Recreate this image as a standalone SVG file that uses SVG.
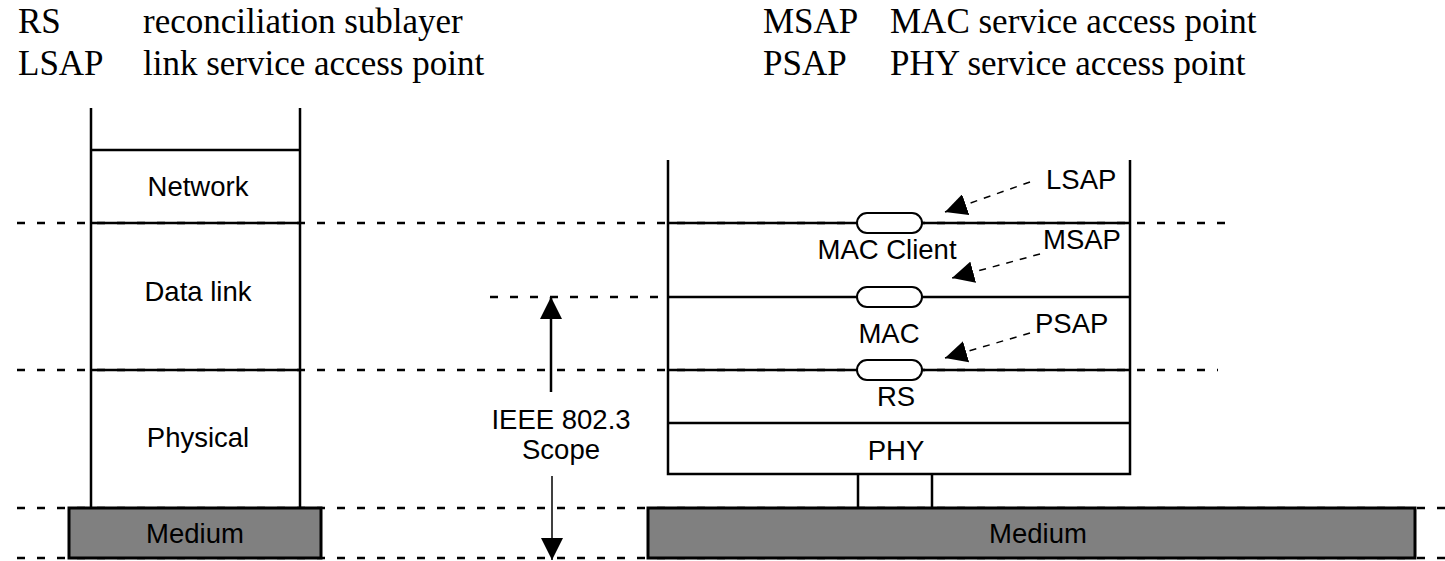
<svg xmlns="http://www.w3.org/2000/svg" width="1445" height="561" viewBox="0 0 1445 561">
<defs>
<style>
.leg{font-family:"Liberation Serif","Times New Roman",serif;font-size:35px;fill:#000}
.lbl{font-family:"Liberation Sans",Arial,sans-serif;font-size:27.5px;fill:#000}
.c{text-anchor:middle}
.ln{stroke:#000;stroke-width:2.5;fill:none}
.dash{stroke:#000;stroke-width:2.5;stroke-dasharray:8 12;fill:none}
.pill{fill:#fff;stroke:#000;stroke-width:2}
.med{fill:#808080;stroke:#000;stroke-width:3}
.darr{stroke:#000;stroke-width:1.5;stroke-dasharray:7 7;fill:none}
</style>
<marker id="ahd" viewBox="0 0 10 10" refX="10" refY="5" markerWidth="22" markerHeight="22" markerUnits="userSpaceOnUse" orient="auto">
<path d="M0,0 L10,5 L0,10 Z" fill="#000"/>
</marker>
</defs>
<rect width="1445" height="561" fill="#fff"/>

<g id="legend">
<text class="leg" x="18" y="33">RS</text>
<text class="leg" x="143" y="33">reconciliation sublayer</text>
<text class="leg" x="18" y="75">LSAP</text>
<text class="leg" x="143" y="75">link service access point</text>
<text class="leg" x="763" y="33">MSAP</text>
<text class="leg" x="890" y="33">MAC service access point</text>
<text class="leg" x="763" y="75">PSAP</text>
<text class="leg" x="890" y="75">PHY service access point</text>
</g>

<g id="guides">
<line class="dash" x1="17" y1="223" x2="1230" y2="223"/>
<line class="dash" x1="490" y1="297" x2="668" y2="297"/>
<line class="dash" x1="17" y1="370" x2="1218" y2="370"/>
<line class="dash" x1="17" y1="508" x2="1445" y2="508"/>
<line class="dash" x1="17" y1="558" x2="1445" y2="558"/>
</g>

<g id="osi-stack">
<path class="ln" d="M91,108 V508 M300,108 V508"/>
<path class="ln" d="M91,150 H300 M91,223 H300 M91,370 H300"/>
<text class="lbl c" x="198" y="196">Network</text>
<text class="lbl c" x="198" y="301">Data link</text>
<text class="lbl c" x="198" y="447">Physical</text>
</g>

<g id="medium-left">
<rect class="med" x="69" y="508" width="252" height="50"/>
<text class="lbl c" x="195" y="543">Medium</text>
</g>

<g id="ieee-stack">
<path class="ln" d="M668,160 V474 H1130 V160"/>
<path class="ln" d="M668,223 H1130 M668,297 H1130 M668,370 H1130 M668,423 H1130"/>
<rect class="pill" x="857" y="213" width="65" height="20" rx="10"/>
<rect class="pill" x="857" y="287" width="65" height="20" rx="10"/>
<rect class="pill" x="857" y="360" width="65" height="20" rx="10"/>
<text class="lbl c" x="887" y="259">MAC Client</text>
<text class="lbl c" x="889" y="343">MAC</text>
<text class="lbl c" x="896" y="406">RS</text>
<text class="lbl c" x="896" y="460">PHY</text>
<path class="ln" d="M858,474 V508 M932,474 V508"/>
</g>

<g id="medium-right">
<rect class="med" x="648" y="508" width="767" height="50"/>
<text class="lbl c" x="1038" y="543">Medium</text>
</g>

<g id="sap-labels">
<text class="lbl" x="1046" y="189">LSAP</text>
<text class="lbl" x="1043" y="249">MSAP</text>
<text class="lbl" x="1035" y="333">PSAP</text>
</g>

<g id="scope">
<text class="lbl c" x="561" y="429">IEEE 802.3</text>
<text class="lbl c" x="561" y="459">Scope</text>
</g>

<g id="connectors">
<line class="darr" x1="1030" y1="182" x2="945" y2="212" marker-end="url(#ahd)"/>
<line class="darr" x1="1040" y1="254" x2="952" y2="278" marker-end="url(#ahd)"/>
<line class="darr" x1="1030" y1="333" x2="945" y2="358" marker-end="url(#ahd)"/>
<line stroke="#000" stroke-width="2.5" x1="551" y1="392" x2="551" y2="297" marker-end="url(#ahd)"/>
<line stroke="#000" stroke-width="1.5" x1="552" y1="476" x2="552" y2="560" marker-end="url(#ahd)"/>
</g>
</svg>
